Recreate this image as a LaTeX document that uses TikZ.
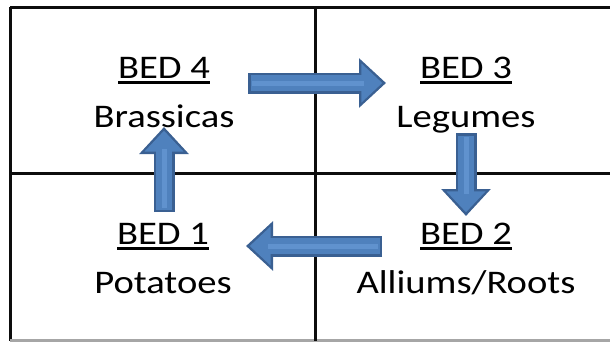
\documentclass[tikz,border=0pt]{standalone}
\usepackage{fontspec}
\setmainfont{Carlito}
\usetikzlibrary{arrows.meta}
\definecolor{gridline}{rgb}{0.05, 0.05, 0.05}
\definecolor{arrowfill}{RGB}{79,129,189}
\definecolor{arrowedge}{RGB}{58,96,146}
\definecolor{arrowlight}{RGB}{96,146,206}
\tikzstyle{bed} = [align=center, font=\fontsize{33}{49}\selectfont, xscale=1.17, inner sep=0pt, anchor=base]
\tikzstyle{grid} = [line width=3pt, draw=gridline]
\newcommand{\bedul}[1]{\setbox0\hbox{#1}\rlap{\rule[-6pt]{\wd0}{2.8pt}}\box0}
\newcommand{\rotarrow}[2]{%
  \draw[arrowedge, line width=21pt, -{Triangle[length=27pt,width=48pt]}] (#1) -- (#2);
  \draw[arrowfill, line width=16pt, shorten <=2.5pt, shorten >=3.7pt, -{Triangle[length=21pt,width=38pt]}] (#1) -- (#2);
  \draw[arrowlight, line width=5pt, shorten <=4pt, shorten >=22pt] (#1) -- (#2);
}

\begin{document}
\begin{tikzpicture}[x=1pt, y=-1pt]
		\useasboundingbox (0,0) rectangle (610,341);
		% the four beds
		\draw[grid] (10,7) -- (610,7);
		\draw[grid] (10,7) -- (10,341);
		\draw[grid, draw=gray!70] (10,340) -- (610,340);
		\draw[grid] (315,7) -- (315,341);
		\draw[grid] (10,173) -- (610,173);
		
		\node[bed](bed4) at (164,127){\bedul{BED 4}\\Brassicas};
		\node[bed](bed3) at (466,127){\bedul{BED 3}\\Legumes};
		\node[bed](bed1) at (163,293){\bedul{BED 1}\\Potatoes};
		\node[bed](bed2) at (466,293){\bedul{BED 2}\\Alliums/Roots};
		
		% rotation arrows
		\coordinate (a43) at (248,83);
		\coordinate (b43) at (386,83);
		\coordinate (a32) at (466,133);
		\coordinate (b32) at (466,216);
		\coordinate (a21) at (382,246);
		\coordinate (b21) at (246,246);
		\coordinate (a14) at (164,212);
		\coordinate (b14) at (164,127);
		\rotarrow{a43}{b43}
		\rotarrow{a32}{b32}
		\rotarrow{a21}{b21}
		\rotarrow{a14}{b14}
		\end{tikzpicture}
\end{document}
